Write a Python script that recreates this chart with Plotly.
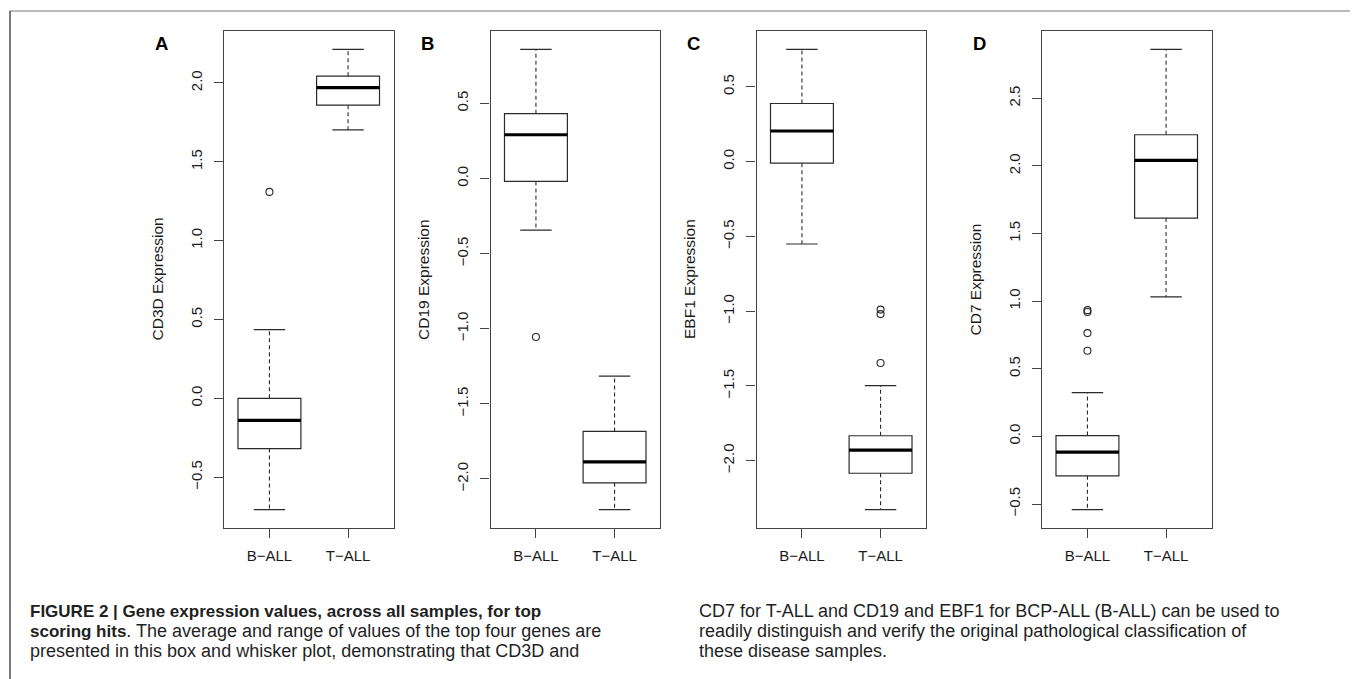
import plotly.graph_objects as go

# ---------------- data ----------------
groups = ["B\u2212ALL", "T\u2212ALL"]
genes = ["CD3D", "CD19", "EBF1", "CD7"]
letters = ["A", "B", "C", "D"]

cd3d_lower = [-0.706, 1.702]
cd3d_q1 = [-0.319, 1.859]
cd3d_median = [-0.140, 1.971]
cd3d_q3 = [0.000, 2.043]
cd3d_upper = [0.436, 2.213]
cd3d_outliers = [[1.309], []]

cd19_lower = [-0.344, -2.204]
cd19_q1 = [-0.020, -2.026]
cd19_median = [0.291, -1.886]
cd19_q3 = [0.431, -1.684]
cd19_upper = [0.859, -1.315]
cd19_outliers = [[-1.055], []]

ebf1_lower = [-0.551, -2.328]
ebf1_q1 = [-0.010, -2.085]
ebf1_median = [0.205, -1.930]
ebf1_q3 = [0.389, -1.834]
ebf1_upper = [0.751, -1.498]
ebf1_outliers = [[], [-0.990, -1.020, -1.347]]

cd7_lower = [-0.541, 1.032]
cd7_q1 = [-0.291, 1.615]
cd7_median = [-0.116, 2.042]
cd7_q3 = [0.006, 2.231]
cd7_upper = [0.324, 2.862]
cd7_outliers = [[0.634, 0.764, 0.920, 0.934], []]

BOLD = '<span style="font-size:17px"><b>{}</b></span>'
caption_left = [
    BOLD.format("FIGURE 2 | Gene expression values, across all samples, for top"),
    BOLD.format("scoring hits") + ". The average and range of values of the top four genes are",
    "presented in this box and whisker plot, demonstrating that CD3D and",
]
caption_right = [
    "CD7 for T-ALL and CD19 and EBF1 for BCP-ALL (B-ALL) can be used to",
    "readily distinguish and verify the original pathological classification of",
    "these disease samples.",
]

panels = [
    (cd3d_lower, cd3d_q1, cd3d_median, cd3d_q3, cd3d_upper, cd3d_outliers),
    (cd19_lower, cd19_q1, cd19_median, cd19_q3, cd19_upper, cd19_outliers),
    (ebf1_lower, ebf1_q1, ebf1_median, ebf1_q3, ebf1_upper, ebf1_outliers),
    (cd7_lower, cd7_q1, cd7_median, cd7_q3, cd7_upper, cd7_outliers),
]

# ---------------- layout geometry (page pixels) ----------------
W, H = 1358, 679
OFF = 8  # default body margin of the html page
panel_left = [224, 490.5, 756.5, 1042]
panel_w = 169.5
panel_top, panel_bottom = 31, 528


def px(x):
    return (x - OFF) / W


def py(y):
    return 1 - (y - OFF) / H


LINE = "#2b2b2b"
FRAME = "#444444"
FONT = "Liberation Sans, Arial, Helvetica, sans-serif"

fig = go.Figure()
positions = [1, 2]
box_w = 0.8
cap_half = 0.2

for k, (lo, q1, med, q3, up, outl) in enumerate(panels):
    ax = "" if k == 0 else str(k + 1)
    xa, ya = "x" + ax, "y" + ax

    # box body
    fig.add_trace(go.Box(
        x=positions, q1=q1, median=med, q3=q3, lowerfence=q1, upperfence=q3,
        width=box_w, fillcolor="white", line=dict(color=LINE, width=1.2),
        boxpoints=False, showlegend=False, hoverinfo="skip",
        xaxis=xa, yaxis=ya,
    ))
    wx, wy, cx, cy, mx, my = [], [], [], [], [], []
    for i, p in enumerate(positions):
        wx += [p, p, None, p, p, None]
        wy += [q3[i], up[i], None, q1[i], lo[i], None]
        cx += [p - cap_half, p + cap_half, None, p - cap_half, p + cap_half, None]
        cy += [up[i], up[i], None, lo[i], lo[i], None]
        mx += [p - box_w / 2, p + box_w / 2, None]
        my += [med[i], med[i], None]
    # dashed whiskers
    fig.add_trace(go.Scatter(x=wx, y=wy, mode="lines", xaxis=xa, yaxis=ya,
                             line=dict(color=LINE, width=1.1, dash="4px,3px"),
                             showlegend=False, hoverinfo="skip"))
    # whisker caps
    fig.add_trace(go.Scatter(x=cx, y=cy, mode="lines", xaxis=xa, yaxis=ya,
                             line=dict(color=LINE, width=1.2),
                             showlegend=False, hoverinfo="skip"))
    # thick medians
    fig.add_trace(go.Scatter(x=mx, y=my, mode="lines", xaxis=xa, yaxis=ya,
                             line=dict(color="#000000", width=3.2),
                             showlegend=False, hoverinfo="skip"))
    # outliers
    ox, oy = [], []
    for i, p in enumerate(positions):
        for v in outl[i]:
            ox.append(p)
            oy.append(v)
    if ox:
        fig.add_trace(go.Scatter(x=ox, y=oy, mode="markers", xaxis=xa, yaxis=ya,
                                 marker=dict(symbol="circle-open", size=7,
                                             color=LINE, line=dict(width=1.1)),
                                 showlegend=False, hoverinfo="skip"))

    # R-style range: data extent widened by 4%
    allv = lo + up + [v for g in outl for v in g]
    dmin, dmax = min(allv), max(allv)
    pad = 0.04 * (dmax - dmin)
    yr = [dmin - pad, dmax + pad]

    x0 = panel_left[k]
    x1 = x0 + panel_w
    common = dict(showline=True, linecolor=FRAME, linewidth=1.2, mirror=True,
                  ticks="outside", ticklen=9, tickwidth=1.1, tickcolor=FRAME,
                  showgrid=False, zeroline=False, fixedrange=True)
    fig.layout["xaxis" + ax] = dict(
        domain=[px(x0), px(x1)], anchor=ya, range=[0.422, 2.578],
        tickmode="array", tickvals=positions, ticktext=groups,
        tickfont=dict(family=FONT, size=15, color="#1a1a1a"),
        ticklabelstandoff=5, **common)
    fig.layout["yaxis" + ax] = dict(
        domain=[py(panel_bottom), py(panel_top)], anchor=xa, range=yr,
        dtick=0.5, tick0=0, tickformat=".1f", tickangle=-90,
        tickfont=dict(family=FONT, size=15, color="#1a1a1a"),
        ticklabelstandoff=6, **common)

    # axis title
    fig.add_annotation(x=px(x0 - 67), y=py((panel_top + panel_bottom) / 2),
                       xref="paper", yref="paper", text=genes[k] + " Expression",
                       textangle=-90, showarrow=False,
                       font=dict(family=FONT, size=15.5, color="#1a1a1a"),
                       xanchor="center", yanchor="middle")
    # panel letter
    fig.add_annotation(x=px(x0 - 63), y=py(43), xref="paper", yref="paper",
                       text="<b>" + letters[k] + "</b>", showarrow=False,
                       font=dict(family=FONT, size=18.5, color="#000000"),
                       xanchor="center", yanchor="middle")

# caption
line_y = [611, 631, 651]
for j, t in enumerate(caption_left):
    fig.add_annotation(x=px(28), y=py(line_y[j]), xref="paper", yref="paper",
                       text=t, showarrow=False, xanchor="left", yanchor="middle",
                       font=dict(family=FONT, size=18, color="#1f1f1f"))
for j, t in enumerate(caption_right):
    fig.add_annotation(x=px(697), y=py(line_y[j]), xref="paper", yref="paper",
                       text=t, showarrow=False, xanchor="left", yanchor="middle",
                       font=dict(family=FONT, size=18, color="#1f1f1f"))

# outer frame of the figure panel
fig.add_shape(type="line", xref="paper", yref="paper", x0=px(10), x1=px(1354),
              y0=py(11), y1=py(11), line=dict(color="#777777", width=1.2))
fig.add_shape(type="line", xref="paper", yref="paper", x0=px(10), x1=px(10),
              y0=py(11), y1=-0.05, line=dict(color="#222222", width=1.2))
fig.add_shape(type="line", xref="paper", yref="paper", x0=px(1354), x1=px(1354),
              y0=py(11), y1=-0.05, line=dict(color="#222222", width=1.2))

fig.update_layout(width=W, height=H, margin=dict(l=0, r=0, t=0, b=0),
                  paper_bgcolor="white", plot_bgcolor="white",
                  showlegend=False, font=dict(family=FONT))

fig.write_html("out.html")
